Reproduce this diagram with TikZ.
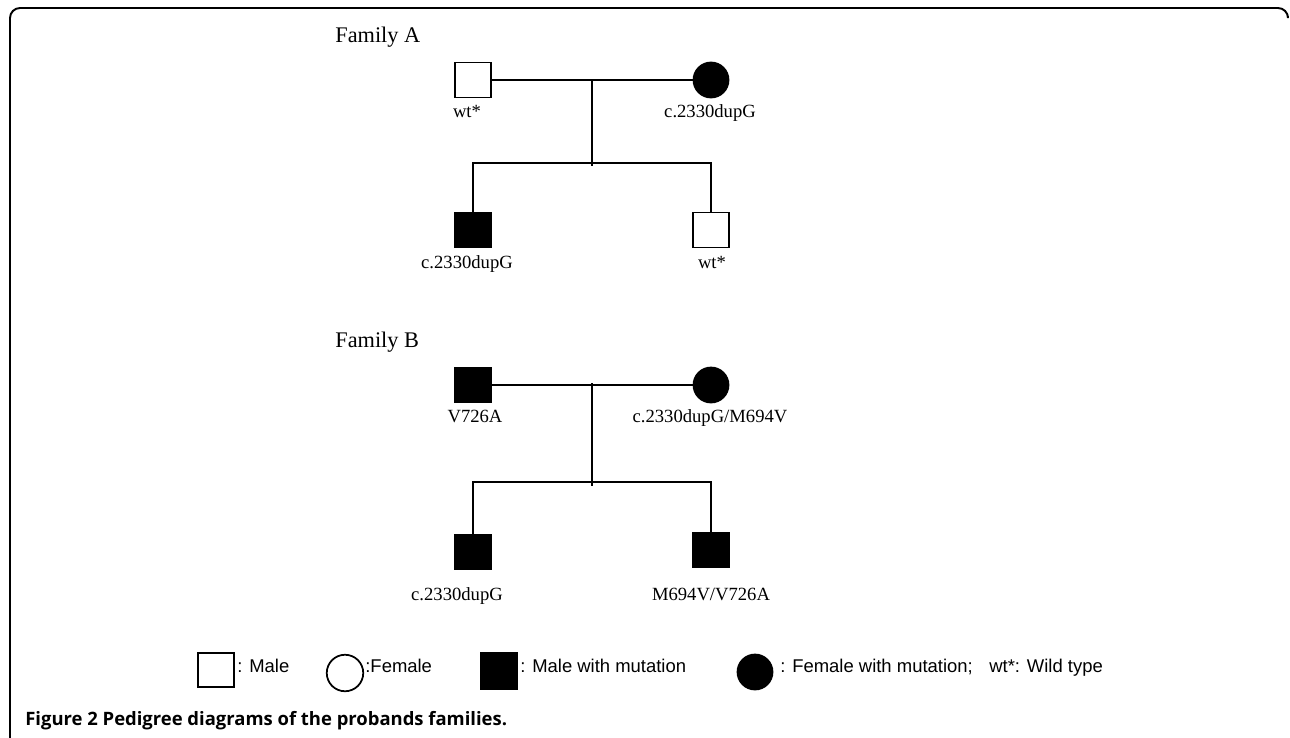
\documentclass[tikz,border=0pt]{standalone}
\usepackage{fontspec}
\setmainfont{Liberation Serif}
\newfontfamily\legendfont{Liberation Sans}
\newfontfamily\capfont{Open Sans}
\usepackage{tikz}
\usetikzlibrary{positioning}

\tikzset{
    male/.style = {draw, line width = 1pt, rectangle, minimum width = 0.72cm, minimum height = 0.70cm, inner sep = 0pt},
    female/.style = {draw, line width = 1pt, circle, minimum size = 0.70cm, inner sep = 0pt},
    affected/.style = {fill = black},
    gene/.style = {anchor = base, inner sep = 0pt, font = \fontsize{10.6}{12}\selectfont},
    famname/.style = {anchor = base west, inner sep = 0pt, font = \fontsize{12.7}{14}\selectfont},
    keytext/.style = {anchor = base west, inner sep = 0pt, font = \legendfont\fontsize{10.5}{12}\selectfont},
    link/.style = {line width = 1.1pt}
}

\begin{document}
\begin{tikzpicture}[x = 0.02cm, y = -0.02cm]
        \useasboundingbox (0,0) rectangle (1290,737);

        % frame
        \begin{scope}
            \clip (0,0) rectangle (1290,737);
            \draw[line width = 1.1pt, rounded corners = 0.2cm] (1288,16) -- (1288,8) -- (10,8) -- (10,750) -- (40,750);
        \end{scope}

        % Family A
        \node[famname] (famA) at (335, 42) {Family A};
        \node[male] (fatherA) at (473, 80) {};
        \node[female, affected] (motherA) at (711, 80) {};
        \node[male, affected] (sonA1) at (473, 230) {};
        \node[male] (sonA2) at (711, 230) {};
        \coordinate (mateA) at (592, 80);
        \coordinate (sibA) at (592, 163);

        \draw[link] (fatherA) -- (motherA);
        \draw[link] (mateA) -- (sibA) -- ++(0, 3);
        \draw[link] (sonA1.north) |- (sibA) -| (sonA2.north);

        \node[gene] (gFatherA) at (467, 117) {wt*};
        \node[gene] (gMotherA) at (710, 117) {c.2330dupG};
        \node[gene] (gSonA1) at (467, 268) {c.2330dupG};
        \node[gene] (gSonA2) at (712, 268) {wt*};

        % Family B
        \node[famname] (famB) at (335, 347) {Family B};
        \node[male, affected] (fatherB) at (473, 385) {};
        \node[female, affected] (motherB) at (711, 385) {};
        \node[male, affected] (sonB1) at (473, 552) {};
        \node[male, affected] (sonB2) at (711, 550) {};
        \coordinate (mateB) at (592, 385);
        \coordinate (sibB) at (592, 482);

        \draw[link] (fatherB) -- (motherB);
        \draw[link] ([yshift = 0.04cm]mateB) -- (sibB) -- ++(0, 4);
        \draw[link] (sonB1.north) |- (sibB) -| (sonB2.north);

        \node[gene] (gFatherB) at (475, 422) {V726A};
        \node[gene] (gMotherB) at (710, 422) {c.2330dupG/M694V};
        \node[gene] (gSonB1) at (457, 600) {c.2330dupG};
        \node[gene] (gSonB2) at (711, 600) {M694V/V726A};

        % key
        \node[male, minimum width = 0.72cm, minimum height = 0.68cm] (keyM) at (216, 670) {};
        \node[keytext] (tM) at (237, 672) {: Male};
        \node[female, minimum size = 0.73cm] (keyF) at (345, 673) {};
        \node[keytext] (tF) at (365, 672) {:Female};
        \node[male, affected, minimum width = 0.74cm, minimum height = 0.72cm] (keyMm) at (499, 671) {};
        \node[keytext] (tMm) at (520, 672) {: Male with mutation};
        \node[female, affected] (keyFm) at (755, 672) {};
        \node[keytext] (tFm) at (780, 672) {: Female with mutation;\hspace{0.9em}wt*: Wild type};

        \node[anchor = base west, inner sep = 0pt, font = \capfont\bfseries\fontsize{10.5}{12}\selectfont] (caption) at (25, 725) {Figure 2 Pedigree diagrams of the probands families.};

    \end{tikzpicture}
\end{document}
